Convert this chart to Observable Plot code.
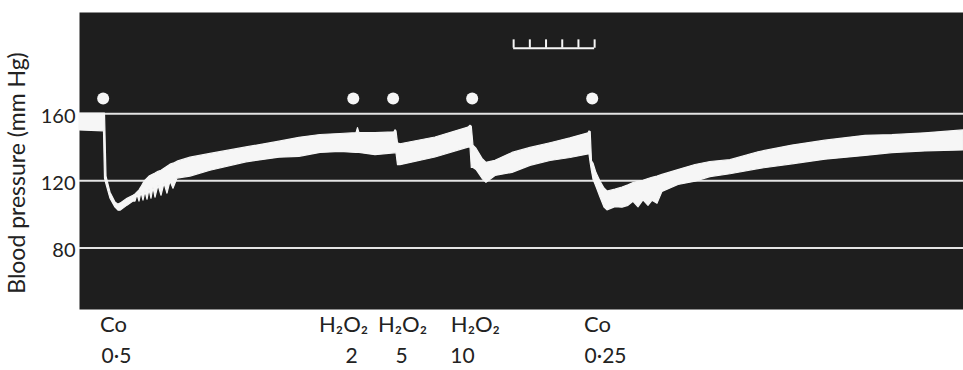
<!DOCTYPE html>
<html><head><meta charset="utf-8">
<script src="https://cdn.jsdelivr.net/npm/d3@7"></script>
<script src="https://cdn.jsdelivr.net/npm/@observablehq/plot@0.6"></script>
<style>body{margin:0;background:#fff}</style>
</head><body><div id="chart"></div>
<script>
// Time (min) along the kymograph trace, with systolic (top edge) and diastolic (bottom edge) pressures, mm Hg
const time = [0, 1.512, 1.574, 1.667, 1.914, 2.222, 2.407, 2.531, 2.963, 3.333,
  3.457, 3.580, 3.704, 3.827, 3.951, 4.074, 4.198, 4.321, 4.444, 4.568,
  4.691, 4.877, 5.062, 5.247, 5.432, 5.617, 5.802, 6.049, 6.852, 8.086,
  10.309, 12.346, 13.580, 14.877, 16.111, 17.099, 17.191, 17.284, 18.272, 19.444,
  19.506, 19.568, 19.660, 19.815, 21.975, 24.012, 24.136, 24.216, 24.321, 24.506,
  24.877, 25.123, 25.679, 26.728, 27.840, 29.074, 30.309, 31.420, 31.481, 31.556,
  31.636, 31.728, 31.914, 32.160, 32.407, 32.593, 33.086, 33.519, 33.889, 34.198,
  34.506, 34.815, 35.123, 35.370, 35.679, 35.988, 36.975, 38.025, 38.951, 40.185,
  41.914, 44.012, 46.049, 48.519, 50.185, 52.222, 54.568];
const systolic = [160, 160, 160, 122.5, 112.9, 107, 105.8, 106.4, 109.3, 111.1,
  111.9, 113.1, 114.3, 116.2, 118.3, 120.1, 121.3, 122.5, 123.1, 123.7,
  124.3, 125.4, 126, 127.2, 128.4, 129.6, 130.2, 131.4, 133.8, 136,
  139.9, 143.3, 145.6, 147.3, 147.9, 148.4, 151.4, 148.4, 148.4, 148.9,
  150.1, 149.5, 142.4, 141.8, 145.8, 151.7, 152.8, 152.2, 140.9, 139.1,
  133.1, 130.7, 131.9, 136.6, 139.6, 142.4, 145.3, 148.3, 149.4, 149,
  131.6, 130.3, 124.6, 119.6, 115.4, 113.6, 114.7, 116, 117.3, 118.6,
  119.4, 120, 121.1, 121.8, 122.5, 123.5, 126.4, 129.4, 131.2, 132.3,
  137, 141, 143.9, 146.8, 147.2, 148.3, 150];
const diastolic = [150, 149.5, 121.3, 117.7, 109.3, 104, 102.2, 102.2, 105.2, 107.6,
  107.6, 111.7, 107.6, 112.9, 108.2, 113.5, 108.7, 114.7, 109.3, 115.9,
  109.9, 117.1, 111.1, 118.3, 112.3, 119.5, 115.3, 121.3, 122.5, 126,
  131, 133.8, 134.3, 136.6, 137.2, 136.6, 136.6, 136.6, 135.3, 136.4,
  136.4, 136.4, 129.3, 129.3, 133.9, 139.8, 139.8, 127.7, 127.7, 126.5,
  121.2, 118.8, 122.9, 124.7, 128.9, 131.8, 133.6, 135.7, 135.7, 130.4,
  125.6, 120.8, 116.3, 110, 104.1, 102.4, 104.3, 104, 105.1, 107.5,
  104.2, 108.3, 105.1, 108.1, 106.3, 113.4, 117.5, 119.5, 122.2, 123.9,
  127, 129.8, 132.6, 134.8, 136.5, 137.5, 138.1];

// Injections (white dots) and their labels
const eventTime = [1.46, 16.9, 19.36, 24.24, 31.65];
const eventName = ["Co", "H₂O₂", "H₂O₂", "H₂O₂", "Co"];
const eventDose = ["0·5", "2", "5", "10", "0·25"];
const nameTime = [2.1, 16.3, 19.94, 24.44, 31.98];
const doseTime = [2.28, 16.79, 19.88, 23.64, 32.47];
const markerLevel = 169;

const yTicks = [80, 120, 160];

// Time scale bar (5 one-minute divisions)
const scaleBarStart = 26.8;
const scaleBarMinutes = 5;
const scaleBarLevel = 199;
const scaleBarTickTop = 204;

const rows = time.map((t, i) => ({t, hi: systolic[i], lo: diastolic[i]}));
const trace = "#f6f6f6";
const ink = "#222222";

const chart = Plot.plot({
  width: 963, height: 370,
  marginLeft: 79, marginRight: 0, marginTop: 12, marginBottom: 61,
  x: {domain: [0, 54.57], axis: null},
  y: {domain: [43.3, 220.3], axis: null},
  style: {fontFamily: "Lato, 'Open Sans', sans-serif", fontSize: "21px", color: ink, background: "transparent"},
  marks: [
    Plot.frame({fill: "#1e1e1e"}),
    Plot.ruleY(yTicks, {stroke: "#e4e4e4", strokeWidth: 2}),
    Plot.areaY(rows, {x: "t", y1: "lo", y2: "hi", fill: trace, stroke: trace, strokeWidth: 1.2}),
    Plot.dot(eventTime, {x: d => d, y: markerLevel, r: 6, fill: trace, stroke: null}),
    Plot.ruleY([scaleBarLevel], {x1: scaleBarStart, x2: scaleBarStart + scaleBarMinutes, stroke: trace, strokeWidth: 2}),
    Plot.ruleX(d3.range(scaleBarMinutes + 1).map(i => scaleBarStart + i), {y1: scaleBarLevel, y2: scaleBarTickTop, stroke: trace, strokeWidth: 2}),
    Plot.axisY(yTicks, {tickSize: 0, tickPadding: 4, dy: 3, fontSize: 20, fill: ink}),
    Plot.text(eventName, {x: nameTime, text: d => d, frameAnchor: "bottom", dy: 22, fontSize: 22, fill: ink}),
    Plot.text(eventDose, {x: doseTime, text: d => d, frameAnchor: "bottom", dy: 53, fontSize: 21, fill: ink}),
    Plot.text(["Blood pressure (mm Hg)"], {text: d => d, frameAnchor: "left", textAnchor: "middle", rotate: -90, dx: -62, dy: 12, fontSize: 23, fill: ink})
  ]
});
document.getElementById("chart").appendChild(chart);
</script>
</body></html>
